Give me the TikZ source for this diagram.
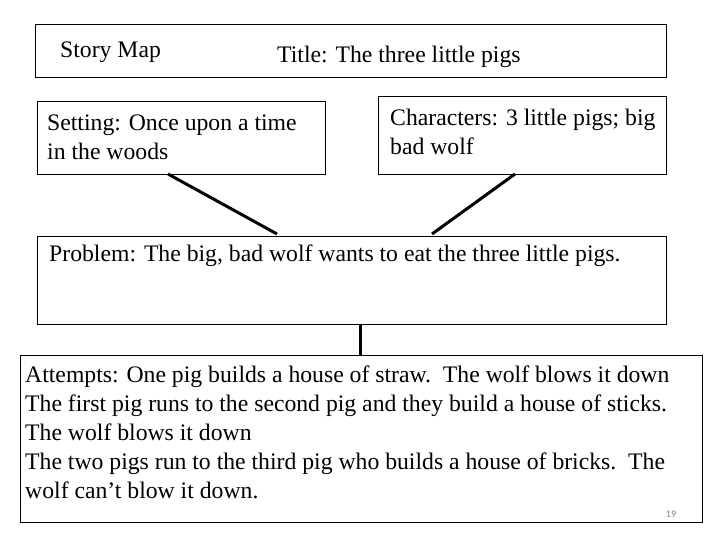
\documentclass[tikz,border=0pt]{standalone}
\usepackage{fontspec}
\setmainfont{Liberation Serif}
\newfontfamily\numfont{Carlito}
\begin{document}
\begin{tikzpicture}[x=1pt,y=-1pt,
  box/.style={draw=black,line width=0.8pt,fill=white},
  txt/.style={anchor=north west,inner sep=0pt,align=left,font=\fontsize{23.7}{29}\selectfont},
  conn/.style={line width=3pt}]
\useasboundingbox (0,0) rectangle (720,540);
\fill[white] (0,0) rectangle (720,540);
\draw[box] (35,24) rectangle (666,77);
\node[txt] (sm) at (60,42) {Story Map};
\node[txt] (ti) at (277,46) {Title: The three little pigs};
\draw[box] (37,101) rectangle (325,174);
\node[txt] (se) at (47,115) {Setting: Once upon a time\\in the woods};
\draw[box] (378,96) rectangle (666,174);
\node[txt] (ch) at (390,109) {Characters: 3 little pigs; big\\bad wolf};
\draw[box] (37,236) rectangle (666,324);
\node[txt] (pr) at (49,245) {Problem: The big, bad wolf wants to eat the three little pigs.};
\draw[box] (20,355) rectangle (702,522);
\node[txt] (at) at (25,366) {Attempts: One pig builds a house of straw.\ \ The wolf blows it down\\The first pig runs to the second pig and they build a house of sticks.\\The wolf blows it down\\The two pigs run to the third pig who builds a house of bricks.\ \ The\\wolf can’t blow it down.};
\node[anchor=center,inner sep=0pt,text=gray,font=\numfont\fontsize{10}{12}\selectfont] (pg) at (671,514) {19};
\coordinate (a1) at (168,174); \coordinate (a2) at (277,234);
\coordinate (b1) at (515,174); \coordinate (b2) at (432,234);
\coordinate (c1) at (360,324); \coordinate (c2) at (360,355);
\draw[conn] (a1) -- (a2);
\draw[conn] (b1) -- (b2);
\draw[conn] (c1) -- (c2);
\end{tikzpicture}
\end{document}
